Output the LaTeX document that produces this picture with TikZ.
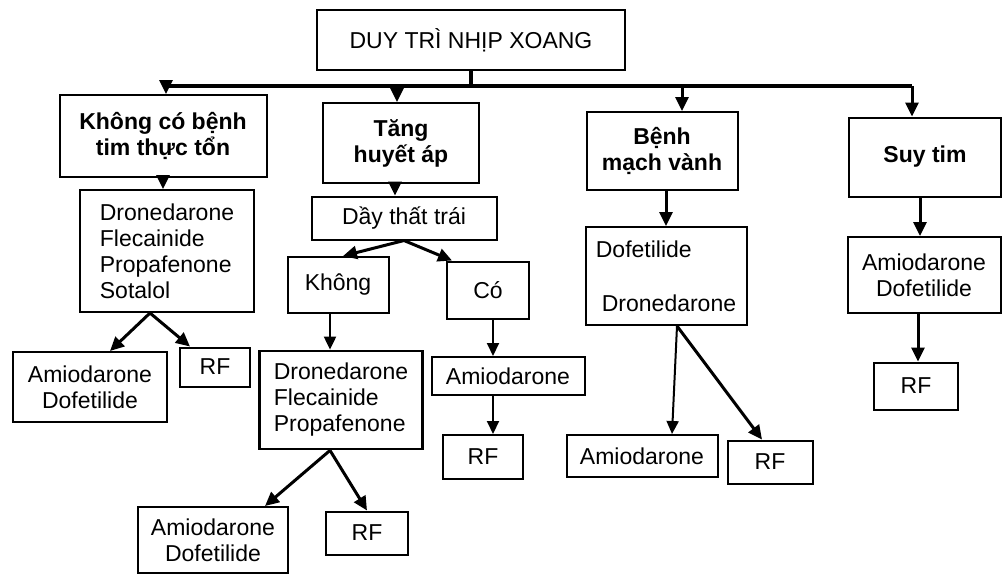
\documentclass[tikz,border=0pt]{standalone}
\usepackage{fontspec}
\setmainfont{Liberation Sans}
\usetikzlibrary{arrows.meta}

\begin{document}
\begin{tikzpicture}[x=1pt, y=-1pt,
	box/.style={draw, line width=2pt, inner sep=0pt, align=center, font=\fontsize{23}{26}\selectfont},
	head/.style={box, font=\bfseries\fontsize{23}{26}\selectfont},
	drugs/.style={box, align=left},
	link/.style={line width=3pt, -{Triangle[length=14pt, width=13pt]}},
	thin link/.style={line width=2pt, -{Triangle[length=13pt, width=12pt]}}]
	\useasboundingbox (0,0) rectangle (1006,574);

	\node [box, minimum width=308, minimum height=60] (root) at (471,40) {DUY TRÌ NHỊP XOANG};

	\node [head, minimum width=207, minimum height=82] (nobd) at (163,136) {Không có bệnh\\tim thực tổn};
	\node [head, minimum width=156, minimum height=80] (tha) at (401,143) {Tăng\\huyết áp};
	\node [head, minimum width=151, minimum height=78] (bmv) at (662,151) {Bệnh\\mạch vành};
	\node [head, minimum width=152, minimum height=79] (sty) at (925,157) {Suy tim};

	\node [drugs, minimum width=174, minimum height=122] (d1) at (167,251) {Dronedarone\\Flecainide\\Propafenone\\Sotalol};
	\node [box, minimum width=154, minimum height=70] (ad1) at (90,387) {Amiodarone\\Dofetilide};
	\node [box, minimum width=70, minimum height=39] (rf1) at (215,367) {RF};

	\node [box, minimum width=185, minimum height=43] (dtt) at (404,218) {Dầy thất trái};
	\node [box, minimum width=101, minimum height=56] (khong) at (338,285) {Không};
	\node [box, minimum width=82, minimum height=57] (co) at (488,290) {Có};
	\node [drugs, line width=2.8pt, minimum width=163, minimum height=98] (d2) at (341,400) {Dronedarone\\Flecainide\\Propafenone};
	\node [box, minimum width=150, minimum height=66] (ad2) at (213,540) {Amiodarone\\Dofetilide};
	\node [box, minimum width=82, minimum height=43] (rf2) at (367,533) {RF};
	\node [box, minimum width=153, minimum height=38] (amid) at (508,376) {Amiodarone};
	\node [box, minimum width=80, minimum height=44] (rfm) at (483,457) {RF};

	\node [drugs, minimum width=161, minimum height=98] (dd) at (666,276) {Dofetilide\\[28pt]\hspace{6pt}Dronedarone};
	\node [box, minimum width=151, minimum height=42] (amr) at (642,456) {Amiodarone};
	\node [box, minimum width=85, minimum height=43] (rfr) at (770,462) {RF};

	\node [box, minimum width=153, minimum height=76] (ad4) at (924,275) {Amiodarone\\Dofetilide};
	\node [box, minimum width=84, minimum height=47] (rf4) at (916,386) {RF};

	\coordinate (busL) at (166,86);
	\coordinate (busR) at (912,86);
	\draw [line width=4pt] (root.south) -- (root.south |- busL);
	\draw [line width=4pt] (busL) -- (busR);
	\draw [link] (busL) -- (busL |- nobd.north);
	\draw [link] ([xshift=-4pt]tha.north |- busL) -- ([xshift=-4pt]tha.north);
	\draw [link] ([xshift=20pt]bmv.north |- busL) -- ([xshift=20pt]bmv.north);
	\draw [link] (busR) -- (busR |- sty.north);

	\draw [link] (nobd.south) -- (nobd.south |- d1.north);
	\draw [link] ([xshift=-17pt]d1.south) -- ([xshift=20pt]ad1.north);
	\draw [link] ([xshift=-17pt]d1.south) -- ([xshift=-25pt]rf1.north);

	\draw [link] ([xshift=-6pt]tha.south) -- ([xshift=-6pt]tha.south |- dtt.north);
	\draw [link] (dtt.south) -- ([xshift=5pt]khong.north);
	\draw [link] (dtt.south) -- ([xshift=-36pt]co.north);
	\draw [thin link] ([xshift=-8pt]khong.south) -- ([xshift=-8pt]khong.south |- d2.north);
	\draw [link] ([xshift=-11pt]d2.south) -- ([xshift=52pt]ad2.north);
	\draw [link] ([xshift=-11pt]d2.south) -- (rf2.north);
	\draw [thin link] ([xshift=5pt]co.south) -- ([xshift=5pt]co.south |- amid.north);
	\draw [thin link] ([xshift=10pt]rfm.north |- amid.south) -- ([xshift=10pt]rfm.north);

	\draw [link] ([xshift=4pt]bmv.south) -- ([xshift=4pt]bmv.south |- dd.north);
	\draw [thin link] ([xshift=11pt]dd.south) -- ([xshift=30pt]amr.north);
	\draw [link] ([xshift=11pt]dd.south) -- ([xshift=-8pt]rfr.north);

	\draw [link] ([xshift=-5pt]sty.south) -- ([xshift=-4pt]ad4.north);
	\draw [link] ([xshift=2pt]rf4.north |- ad4.south) -- ([xshift=2pt]rf4.north);
\end{tikzpicture}
\end{document}
